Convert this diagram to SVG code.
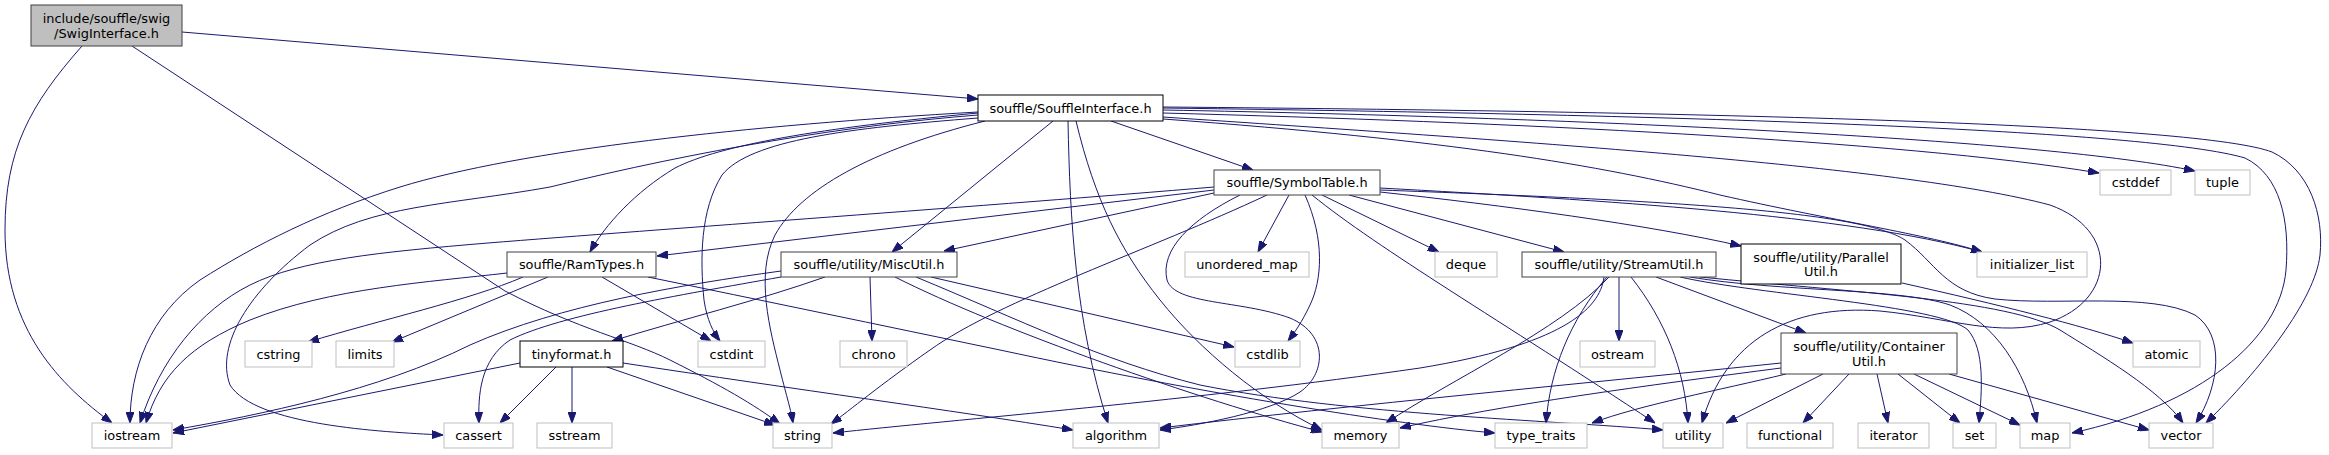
<svg xmlns="http://www.w3.org/2000/svg" width="2329" height="455" viewBox="0 0 2329 455">
<style>
rect{fill:#fff;stroke-width:1}
.n rect{stroke:#000}
.g rect{stroke:#404040}
.x rect{stroke:#bfbfbf}
.r rect{fill:#bfbfbf;stroke:#404040}
text{font-family:"DejaVu Sans",sans-serif;font-size:12.9px;fill:#000;text-anchor:middle}
#edges path{fill:none;stroke:#191970;stroke-width:1;marker-end:url(#a)}
</style>
<defs>
<marker id="a" markerWidth="11" markerHeight="8" refX="11" refY="4" orient="auto" markerUnits="userSpaceOnUse">
<path d="M0,0 L11,4 L0,8 z" fill="#191970" stroke="#191970" stroke-width="1"/>
</marker>
</defs>
<rect x="0" y="0" width="2329" height="455" style="fill:#fff;stroke:none"/>
<g id="edges">
<path d="M182,32 L978,99"/>
<path d="M82,46 C30,105 5,150 5,230 C5,330 60,385 112,423"/>
<path d="M132,46 L505,291 C580,330 630,340 670,360 C720,385 755,405 780,424"/>
<path d="M978,112 C750,125 520,150 400,187 C320,212 255,245 200,280 C150,315 130,370 130,423"/>
<path d="M978,115 C850,125 700,150 550,187 C450,205 370,205 310,245 C250,290 215,345 230,385 C255,425 380,432 443,435"/>
<path d="M978,113 C820,128 720,145 675,168 C635,192 605,225 590,252"/>
<path d="M978,118 C850,128 750,140 722,175 C700,210 700,260 704,300 C707,320 713,332 720,341"/>
<path d="M985,121 C870,150 800,190 775,235 C755,275 770,330 780,370 C787,398 791,410 793,423"/>
<path d="M1053,121 L892,252"/>
<path d="M1068,121 C1070,220 1075,320 1108,423"/>
<path d="M1076,121 C1095,200 1120,250 1160,300 C1200,350 1260,400 1322,430"/>
<path d="M1111,121 L1253,170"/>
<path d="M1163,113 C1500,122 1900,140 2099,173"/>
<path d="M1163,110 C1600,118 2050,140 2195,171"/>
<path d="M1163,108 C1700,115 2150,130 2245,158 C2280,175 2290,220 2286,270 C2280,340 2200,405 2072,433"/>
<path d="M1163,107 C1750,112 2200,125 2272,152 C2310,170 2324,215 2320,255 C2315,300 2260,370 2206,423"/>
<path d="M1163,119 C1450,140 1600,165 1720,195 C1830,220 1930,235 1982,252"/>
<path d="M1163,117 C1500,140 1900,165 2050,205 C2120,230 2115,300 2050,322 C2000,338 1950,318 1880,311 C1790,304 1725,340 1702,423"/>
<path d="M1214,187 C1000,205 650,230 488,243 C380,252 300,260 250,285 C200,310 160,360 140,423"/>
<path d="M1214,190 L657,256"/>
<path d="M1214,193 L944,251"/>
<path d="M1289,195 L1258,252"/>
<path d="M1322,195 L1439,252"/>
<path d="M1349,195 L1564,252"/>
<path d="M1380,192 C1500,205 1650,225 1741,246"/>
<path d="M1380,188 C1600,200 1850,215 1982,252"/>
<path d="M1380,190 C1650,200 1860,210 1905,240 C1935,262 1945,292 1995,299 C2060,306 2150,292 2195,315 C2225,335 2220,385 2196,423"/>
<path d="M1267,195 C1150,250 1000,300 930,350 C880,385 850,410 831,424"/>
<path d="M1240,195 C1190,220 1160,250 1167,280 C1175,305 1240,300 1290,318 C1330,335 1325,375 1300,392 C1270,412 1200,425 1160,430"/>
<path d="M1305,195 C1325,240 1322,280 1310,305 C1302,322 1295,332 1288,341"/>
<path d="M1312,195 C1380,250 1500,320 1655,423"/>
<path d="M507,273 C430,282 330,288 250,320 C190,345 160,375 146,423"/>
<path d="M523,277 C470,300 380,320 308,342"/>
<path d="M548,277 L392,342"/>
<path d="M602,277 L711,341"/>
<path d="M648,277 C760,300 880,325 1000,350 C1200,393 1400,425 1495,433"/>
<path d="M781,271 C680,285 560,305 470,345 C380,390 260,415 173,430"/>
<path d="M781,277 C680,295 560,315 510,340 C480,360 478,395 479,423"/>
<path d="M825,277 C760,300 680,320 612,341"/>
<path d="M870,277 L872,341"/>
<path d="M895,277 C1000,330 1200,400 1322,432"/>
<path d="M916,277 C1020,320 1100,360 1200,385 C1350,415 1550,420 1663,430"/>
<path d="M931,277 L1234,347"/>
<path d="M520,363 L173,433"/>
<path d="M556,367 L500,423"/>
<path d="M572,367 L572,423"/>
<path d="M607,367 L775,425"/>
<path d="M623,363 C800,390 950,410 1073,430"/>
<path d="M1604,277 C1600,310 1560,345 1420,368 C1200,400 950,420 833,433"/>
<path d="M1609,277 C1560,330 1450,380 1386,423"/>
<path d="M1607,277 C1570,320 1550,370 1546,423"/>
<path d="M1619,277 L1619,341"/>
<path d="M1631,277 C1665,320 1685,370 1688,423"/>
<path d="M1656,277 L1806,333"/>
<path d="M1680,277 C1760,295 1940,305 1968,330 C1985,350 1982,390 1979,423"/>
<path d="M1690,277 C1780,292 1900,288 1950,305 C1995,322 2025,370 2037,423"/>
<path d="M1700,277 C1850,292 2010,300 2060,330 C2100,355 2160,390 2183,423"/>
<path d="M1781,363 C1600,382 1350,405 1160,428"/>
<path d="M1781,368 C1650,385 1500,405 1400,428"/>
<path d="M1786,374 C1720,390 1640,405 1592,423"/>
<path d="M1823,374 L1726,423"/>
<path d="M1849,374 L1803,423"/>
<path d="M1877,374 L1888,423"/>
<path d="M1898,374 L1960,423"/>
<path d="M1914,374 L2020,425"/>
<path d="M1949,374 L2149,430"/>
<path d="M1902,283 C2000,305 2080,325 2133,343"/>
</g>
<g id="n_swig" class="r"><rect x="31" y="5" width="151" height="41"/><text x="106.5" y="23">include/souffle/swig</text><text x="106.5" y="38">/SwigInterface.h</text></g>
<g id="n_si" class="n"><rect x="978" y="95" width="185" height="26"/><text x="1070.5" y="112.5">souffle/SouffleInterface.h</text></g>
<g id="n_st" class="g"><rect x="1214" y="170" width="166" height="25"/><text x="1297" y="187">souffle/SymbolTable.h</text></g>
<g id="n_rt" class="g"><rect x="507" y="252" width="149" height="25"/><text x="581.5" y="269">souffle/RamTypes.h</text></g>
<g id="n_mu" class="g"><rect x="781" y="252" width="176" height="25"/><text x="869" y="269">souffle/utility/MiscUtil.h</text></g>
<g id="n_um" class="x"><rect x="1185" y="252" width="124" height="25"/><text x="1247" y="269">unordered_map</text></g>
<g id="n_dq" class="x"><rect x="1435" y="252" width="62" height="25"/><text x="1466" y="269">deque</text></g>
<g id="n_su" class="g"><rect x="1522" y="252" width="194" height="25"/><text x="1619" y="269">souffle/utility/StreamUtil.h</text></g>
<g id="n_pu" class="n"><rect x="1741" y="244" width="160" height="40"/><text x="1821" y="261.5">souffle/utility/Parallel</text><text x="1821" y="275.5">Util.h</text></g>
<g id="n_il" class="x"><rect x="1977" y="252" width="110" height="25"/><text x="2032" y="269">initializer_list</text></g>
<g id="n_cd" class="x"><rect x="2100" y="170" width="71" height="25"/><text x="2135.5" y="187">cstddef</text></g>
<g id="n_tu" class="x"><rect x="2195" y="170" width="55" height="25"/><text x="2222.5" y="187">tuple</text></g>
<g id="n_csr" class="x"><rect x="245" y="341" width="67" height="26"/><text x="278.5" y="358.5">cstring</text></g>
<g id="n_lim" class="x"><rect x="336" y="341" width="58" height="26"/><text x="365" y="358.5">limits</text></g>
<g id="n_tf" class="n"><rect x="520" y="341" width="103" height="26"/><text x="571.5" y="358.5">tinyformat.h</text></g>
<g id="n_ci" class="x"><rect x="698" y="341" width="67" height="26"/><text x="731.5" y="358.5">cstdint</text></g>
<g id="n_ch" class="x"><rect x="840" y="341" width="67" height="26"/><text x="873.5" y="358.5">chrono</text></g>
<g id="n_cl" class="x"><rect x="1235" y="341" width="65" height="26"/><text x="1267.5" y="358.5">cstdlib</text></g>
<g id="n_os" class="x"><rect x="1580" y="341" width="75" height="26"/><text x="1617.5" y="358.5">ostream</text></g>
<g id="n_cu" class="g"><rect x="1781" y="333" width="176" height="41"/><text x="1869" y="351">souffle/utility/Container</text><text x="1869" y="365.5">Util.h</text></g>
<g id="n_at" class="x"><rect x="2133" y="341" width="67" height="26"/><text x="2166.5" y="358.5">atomic</text></g>
<g id="n_io" class="x"><rect x="92" y="423" width="80" height="25"/><text x="132" y="440">iostream</text></g>
<g id="n_ca" class="x"><rect x="444" y="423" width="69" height="25"/><text x="478.5" y="440">cassert</text></g>
<g id="n_ss" class="x"><rect x="537" y="423" width="75" height="25"/><text x="574.5" y="440">sstream</text></g>
<g id="n_str" class="x"><rect x="773" y="423" width="59" height="25"/><text x="802.5" y="440">string</text></g>
<g id="n_al" class="x"><rect x="1073" y="423" width="86" height="25"/><text x="1116" y="440">algorithm</text></g>
<g id="n_me" class="x"><rect x="1322" y="423" width="77" height="25"/><text x="1360.5" y="440">memory</text></g>
<g id="n_tt" class="x"><rect x="1495" y="423" width="92" height="25"/><text x="1541" y="440">type_traits</text></g>
<g id="n_ut" class="x"><rect x="1663" y="423" width="60" height="25"/><text x="1693" y="440">utility</text></g>
<g id="n_fu" class="x"><rect x="1747" y="423" width="86" height="25"/><text x="1790" y="440">functional</text></g>
<g id="n_it" class="x"><rect x="1858" y="423" width="71" height="25"/><text x="1893.5" y="440">iterator</text></g>
<g id="n_set" class="x"><rect x="1953" y="423" width="43" height="25"/><text x="1974.5" y="440">set</text></g>
<g id="n_map" class="x"><rect x="2020" y="423" width="50" height="25"/><text x="2045" y="440">map</text></g>
<g id="n_vec" class="x"><rect x="2149" y="423" width="64" height="25"/><text x="2181" y="440">vector</text></g>
</svg>
